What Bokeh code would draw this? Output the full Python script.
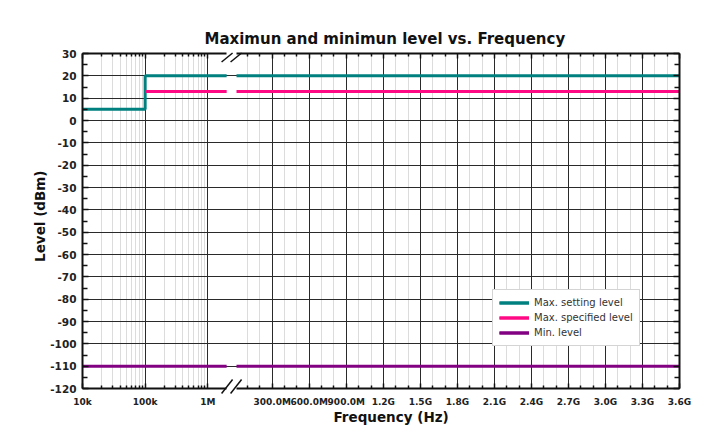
import numpy as np
from bokeh.plotting import figure
from bokeh.models import (Range1d, LogScale, LinearAxis, FixedTicker, Grid, Title,
                          Legend, LegendItem, Arrow, CustomJSTickFormatter)
from bokeh.embed import file_html
from bokeh.resources import INLINE

# ---------------- data ----------------
series_names = ["Max. setting level", "Max. specified level", "Min. level"]
series_colors = ["#00807f", "#ff0a84", "#820082"]
set_freq = [1e4, 1e5, 1e5, 3.6e9]
set_level = [5, 5, 20, 20]
spec_freq = [1e5, 3.6e9]
spec_level = [13, 13]
min_freq = [1e4, 3.6e9]
min_level = [-110, -110]

log_ticks = [1e4, 1e5, 1e6]
log_tick_labels = ["10k", "100k", "1M"]
lin_ticks = [3e8, 6e8, 9e8, 1.2e9, 1.5e9, 1.8e9, 2.1e9, 2.4e9, 2.7e9, 3.0e9, 3.3e9, 3.6e9]
lin_tick_labels = ["300.0M", "600.0M", "900.0M", "1.2G", "1.5G", "1.8G", "2.1G",
                   "2.4G", "2.7G", "3.0G", "3.3G", "3.6G"]
y_ticks = [-120, -110, -100, -90, -80, -70, -60, -50, -40, -30, -20, -10, 0, 10, 20, 30]
y_tick_labels = ["-120", "-110", "-100", "-90", "-80", "-70", "-60", "-50", "-40",
                 "-30", "-20", "-10", "0", "10", "20", "30"]
y_minor = list(range(-115, 30, 10))
log_minor = [m * 10 ** e for e in (4, 5) for m in range(2, 10)]
lin_minor = [k * 1e8 for k in range(1, 36) if k % 3]

title_text = "Maximun and minimun level vs. Frequency"
x_label = "Frequency (Hz)"
y_label = "Level (dBm)"

LOG_END = 2e6      # last frequency on the logarithmic part
LIN_START = 1e7    # first frequency on the linear part
F_MIN, F_MAX = 1e4, 3.6e9
Y_MIN, Y_MAX = -120, 30

# ---------------- layout constants ----------------
BOX_W, BOX_H = 597, 335        # the drawn plot box
EXTRA_LEFT, EXTRA_RIGHT, EXTRA_BOTTOM, EXTRA_TOP = 35, 12, 20, 8   # room for tick labels
FRAME_W = EXTRA_LEFT + BOX_W + EXTRA_RIGHT
FRAME_H = EXTRA_TOP + BOX_H + EXTRA_BOTTOM
DECADE_PX = 62.65
LIN_START_PX = 154.0           # box pixel where the linear part starts

log_end_px = np.log10(LOG_END / F_MIN) * DECADE_PX
hz_per_px = (F_MAX - LIN_START) / (BOX_W - LIN_START_PX)
BOX_X0 = LIN_START - LIN_START_PX * hz_per_px          # linear coordinate of box left
lin_range = Range1d(BOX_X0 - EXTRA_LEFT * hz_per_px, F_MAX + EXTRA_RIGHT * hz_per_px)
log_range = Range1d(F_MIN * 10 ** (-EXTRA_LEFT / DECADE_PX),
                    F_MIN * 10 ** ((BOX_W + EXTRA_RIGHT) / DECADE_PX))
px_per_db = BOX_H / (Y_MAX - Y_MIN)
y_range = Range1d(Y_MIN - EXTRA_BOTTOM / px_per_db, Y_MAX + EXTRA_TOP / px_per_db)

FONT = "DejaVu Sans"

p = figure(frame_width=FRAME_W, frame_height=FRAME_H,
           x_range=lin_range, y_range=y_range,
           extra_x_ranges={"log": log_range}, extra_x_scales={"log": LogScale()},
           x_axis_type=None, y_axis_type=None,
           output_backend="svg", toolbar_location=None,
           min_border_left=82 - EXTRA_LEFT, min_border_top=53 - EXTRA_TOP,
           min_border_right=2, min_border_bottom=26,
           outline_line_color=None, background_fill_color="white", border_fill_color="white")

p.title.text = title_text
p.title.align = "left"
p.title.offset = 157
p.title.text_font = FONT
p.title.text_font_style = "bold"
p.title.text_font_size = "15px"
p.title.text_color = "#111111"
p.title.standoff = -5

empty = CustomJSTickFormatter(code="return ''")


def style_axis(ax, major_in=5, minor_in=3):
    ax.axis_line_width = 2
    ax.axis_line_color = "#111111"
    ax.major_tick_in = major_in
    ax.major_tick_out = 0
    ax.minor_tick_in = minor_in
    ax.minor_tick_out = 0
    ax.major_tick_line_width = 1.5
    ax.minor_tick_line_width = 1.5
    ax.major_tick_line_color = "#111111"
    ax.minor_tick_line_color = "#111111"
    ax.major_label_text_font = FONT
    ax.major_label_text_font_style = "bold"
    ax.major_label_text_color = "#222222"


def lin_ticker():
    return FixedTicker(ticks=lin_ticks, minor_ticks=lin_minor)


def log_ticker():
    return FixedTicker(ticks=log_ticks, minor_ticks=log_minor)


# bottom axes (drawn on the box edge)
x_lin = LinearAxis(ticker=lin_ticker(), bounds=(LIN_START, F_MAX),
                   major_label_overrides=dict(zip(lin_ticks, lin_tick_labels)),
                   fixed_location=Y_MIN)
style_axis(x_lin)
x_lin.major_label_text_font_size = "9px"
x_lin.major_label_standoff = 8
p.add_layout(x_lin, "below")

x_log = LinearAxis(x_range_name="log", ticker=log_ticker(), bounds=(F_MIN, LOG_END),
                   major_label_overrides=dict(zip(log_ticks, log_tick_labels)),
                   fixed_location=Y_MIN)
style_axis(x_log)
x_log.major_label_text_font_size = "9px"
x_log.major_label_standoff = 8
p.add_layout(x_log, "below")

# top axes (ticks only)
t_lin = LinearAxis(ticker=lin_ticker(), bounds=(LIN_START, F_MAX), formatter=empty,
                   fixed_location=Y_MAX)
style_axis(t_lin)
p.add_layout(t_lin, "above")
t_log = LinearAxis(x_range_name="log", ticker=log_ticker(), bounds=(F_MIN, LOG_END),
                   formatter=empty, fixed_location=Y_MAX)
style_axis(t_log)
p.add_layout(t_log, "above")

# y axes (on the box edges)
y_left = LinearAxis(ticker=FixedTicker(ticks=y_ticks, minor_ticks=y_minor),
                    major_label_overrides=dict(zip(y_ticks, y_tick_labels)),
                    bounds=(Y_MIN, Y_MAX), fixed_location=BOX_X0)
style_axis(y_left, 6, 5)
y_left.major_label_text_font_size = "10.5px"
y_left.major_label_standoff = 6
p.add_layout(y_left, "left")

y_right = LinearAxis(ticker=FixedTicker(ticks=y_ticks, minor_ticks=y_minor),
                     formatter=empty, fixed_location=F_MAX, bounds=(Y_MIN, Y_MAX))
style_axis(y_right, 6, 5)
p.add_layout(y_right, "right")

# axis titles
p.add_layout(Title(text=y_label, align="right", offset=117 + EXTRA_TOP,
                   vertical_align="bottom",
                   standoff=0, text_font=FONT, text_font_style="bold",
                   text_font_size="13.5px", text_color="#111111"), "left")
p.add_layout(Title(text=x_label, align="left", offset=251 + EXTRA_LEFT, vertical_align="top",
                   standoff=0, text_font=FONT, text_font_style="bold",
                   text_font_size="13.5px", text_color="#111111"), "below")

# grids
MAJOR_GRID = "#2a2a2a"
MINOR_GRID = "#dcdcdc"

p.add_layout(Grid(dimension=0, ticker=lin_ticker(), cross_bounds=(Y_MIN, Y_MAX),
                  grid_line_color=MAJOR_GRID, minor_grid_line_color=MINOR_GRID))
p.add_layout(Grid(dimension=0, x_range_name="log", ticker=log_ticker(),
                  cross_bounds=(Y_MIN, Y_MAX),
                  grid_line_color=MAJOR_GRID, minor_grid_line_color=MINOR_GRID))
p.add_layout(Grid(dimension=1, ticker=FixedTicker(ticks=y_ticks[1:-1]),
                  cross_bounds=(BOX_X0, F_MAX), grid_line_color=MAJOR_GRID))


def clip(f, y, lo, hi):
    xs, ys = [], []
    for a, ya, b, yb in zip(f[:-1], y[:-1], f[1:], y[1:]):
        if b < lo or a > hi:
            continue
        if a == b:
            seg = [(a, ya), (b, yb)]
        else:
            s, e = max(a, lo), min(b, hi)
            seg = [(s, ya + (yb - ya) * (s - a) / (b - a)),
                   (e, ya + (yb - ya) * (e - a) / (b - a))]
        for pt in seg:
            if not xs or (xs[-1], ys[-1]) != pt:
                xs.append(pt[0])
                ys.append(pt[1])
    return xs, ys


items = []
for name, color, f, lv in zip(series_names, series_colors,
                              [set_freq, spec_freq, min_freq],
                              [set_level, spec_level, min_level]):
    lx, ly = clip(f, lv, 0, LOG_END)
    rx, ry = clip(f, lv, LIN_START, np.inf)
    rs = []
    if lx:
        rs.append(p.line(lx, ly, x_range_name="log", line_color=color, line_width=3))
    if rx:
        rs.append(p.line(rx, ry, line_color=color, line_width=3))
    items.append(LegendItem(label=name, renderers=rs))

legend = Legend(items=items, location=(EXTRA_LEFT + 410, EXTRA_BOTTOM + 42),
                glyph_width=30, glyph_height=13, label_height=13, spacing=2,
                padding=6, label_standoff=5,
                label_text_font=FONT, label_text_font_size="10px", label_text_color="#333333",
                border_line_color="#aaaaaa", border_line_width=1,
                background_fill_color="white", background_fill_alpha=1)
p.add_layout(legend)

# axis-break marks
center_px = (log_end_px + LIN_START_PX) / 2
for y_edge, dy_px, off_px in ((Y_MAX, 9, 4), (Y_MIN, 14, -2)):
    yc = y_edge - off_px / px_per_db
    for shift in (-4.5, 4.5):
        xc = BOX_X0 + (center_px + shift) * hz_per_px
        dx = 5.5 * hz_per_px
        dy = dy_px / 2 / px_per_db
        p.add_layout(Arrow(end=None, x_start=xc - dx, y_start=yc - dy,
                           x_end=xc + dx, y_end=yc + dy,
                           line_color="#111111", line_width=1.5))

open("out.html", "w").write(file_html(p, INLINE))
